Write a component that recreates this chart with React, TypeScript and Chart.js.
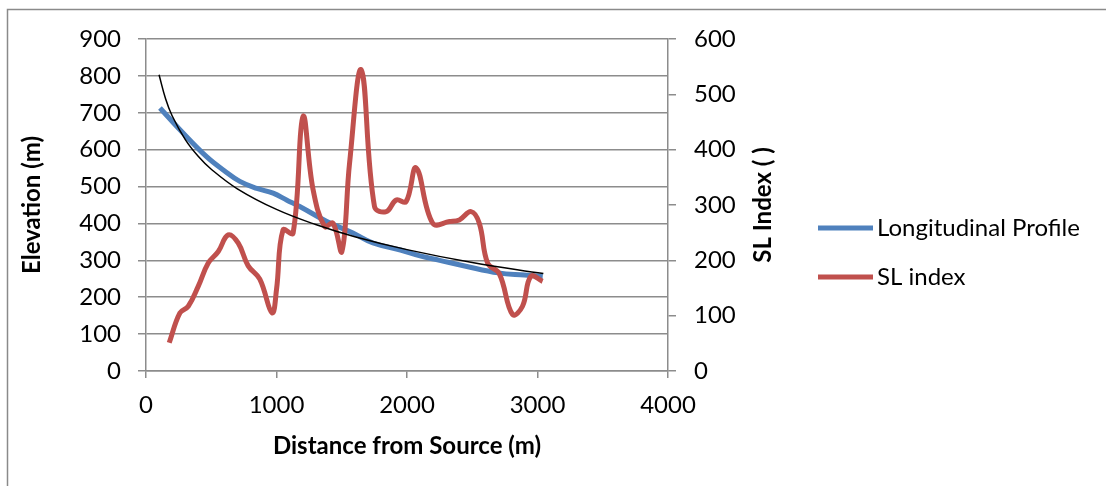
import React, { useEffect, useRef } from "react";
import { Chart, registerables } from "chart.js";

Chart.register(...registerables);

// Longitudinal profile (left axis, elevation m)
const profileDistance = [107, 260, 464, 600, 719, 850, 974, 1080, 1178, 1382, 1586, 1739, 1950, 2100, 2250, 2450, 2700, 2900, 3040];
const profileElevation = [713, 654, 581, 543, 514, 495, 482, 463, 446, 406, 374, 347, 328, 312, 300, 284, 266, 260, 256];

// SL index (right axis)
const slDistance = [178, 260, 324, 400, 477, 554, 630, 707, 783, 872, 966, 1000, 1050, 1127, 1203, 1280, 1369, 1433, 1501, 1560, 1650, 1751, 1841, 1917, 1993, 2070, 2197, 2325, 2401, 2491, 2554, 2618, 2707, 2809, 2885, 2949, 3039];
const slValues = [51, 105, 117, 153, 195, 216, 246, 231, 190, 166, 105, 147, 255, 249, 460, 328, 261, 267, 216, 376, 544, 297, 288, 309, 306, 367, 267, 270, 273, 288, 267, 195, 176, 102, 117, 171, 162];

// Trend line over the profile (left axis)
const trendDistance = [100, 150, 200, 300, 400, 500, 700, 1000, 1300, 1600, 2000, 2500, 3045];
const trendElevation = [803, 738, 692, 628, 582, 547, 494, 438, 397, 364, 329, 294, 264];

const seriesNames = ["Longitudinal Profile", "SL index"];
const xTitle = "Distance from Source (m)";
const yTitle = "Elevation (m)";
const y1Title = "SL Index ( )";

const FONT = "Lato, 'Open Sans', sans-serif";
const GRID = "#8c8c8c";
const BLUE = "#4f81bd";
const RED = "#c0504d";

export default function App() {
  const ref = useRef<HTMLCanvasElement | null>(null);

  useEffect(() => {
    document.body.style.margin = "0";
    const canvas = ref.current;
    if (!canvas) return;

    const framePlugin = {
      id: "frameAndLegend",
      beforeDraw(chart: any) {
        const c = chart.ctx;
        c.save();
        c.fillStyle = "#ffffff";
        c.fillRect(0, 0, chart.width, chart.height);
        c.strokeStyle = "#8a8a8a";
        c.lineWidth = 1.5;
        c.strokeRect(7.5, 9.5, chart.width + 40, chart.height + 40);
        c.restore();
      },
      afterDraw(chart: any) {
        const c = chart.ctx;
        c.save();
        // right axis title, reading bottom-to-top
        const area = chart.chartArea;
        c.translate(763, (area.top + area.bottom) / 2);
        c.rotate(-Math.PI / 2);
        c.fillStyle = "#000";
        c.font = `bold 24px ${FONT}`;
        c.textAlign = "center";
        c.textBaseline = "middle";
        c.fillText(y1Title, 0, 0);
        c.restore();

        c.save();
        const items = [
          { label: seriesNames[0], color: BLUE, y: 228 },
          { label: seriesNames[1], color: RED, y: 277 },
        ];
        items.forEach((it) => {
          c.strokeStyle = it.color;
          c.lineWidth = 5;
          c.lineCap = "butt";
          c.beginPath();
          c.moveTo(818, it.y);
          c.lineTo(873, it.y);
          c.stroke();
          c.fillStyle = "#000";
          c.font = `24px ${FONT}`;
          c.textBaseline = "middle";
          c.textAlign = "left";
          c.fillText(it.label, 877, it.y);
        });
        c.restore();
      },
    };

    const tickFont = { family: FONT, size: 24 };
    const titleFont = { family: FONT, size: 24, weight: "bold" as const };

    const chart = new Chart(canvas, {
      type: "line",
      data: {
        datasets: [
          {
            label: "Trend",
            data: trendDistance.map((x, i) => ({ x, y: trendElevation[i] })),
            borderColor: "#000000",
            borderWidth: 1.5,
            pointRadius: 0,
            tension: 0.4,
            yAxisID: "y",
          },
          {
            label: seriesNames[1],
            data: slDistance.map((x, i) => ({ x, y: slValues[i] })),
            borderColor: RED,
            borderWidth: 5,
            pointRadius: 0,
            tension: 0.4,
            yAxisID: "y1",
          },
          {
            label: seriesNames[0],
            data: profileDistance.map((x, i) => ({ x, y: profileElevation[i] })),
            borderColor: BLUE,
            borderWidth: 5,
            pointRadius: 0,
            tension: 0.4,
            yAxisID: "y",
          },
        ],
      },
      options: {
        responsive: false,
        animation: false,
        layout: { padding: { left: 0, top: 39, right: 335, bottom: 0 } },
        plugins: { legend: { display: false }, tooltip: { enabled: false } },
        scales: {
          x: {
            type: "linear",
            min: 0,
            max: 4000,
            ticks: {
              stepSize: 1000,
              color: "#000",
              font: tickFont,
              padding: 13,
              maxRotation: 0,
              callback: (v: any) => String(v),
            },
            grid: { drawOnChartArea: false, drawTicks: true, tickLength: 7, color: GRID, lineWidth: 1.5 },
            border: { color: GRID, width: 1.5 },
            title: {
              display: true,
              text: xTitle,
              color: "#000",
              font: titleFont,
              padding: { top: 0, bottom: 25 },
            },
            afterFit(s: any) {
              s.height = 115;
            },
          },
          y: {
            position: "left",
            min: 0,
            max: 900,
            ticks: { stepSize: 100, color: "#000", font: tickFont, padding: 17 },
            grid: { color: GRID, lineWidth: 1.5, tickLength: 8 },
            border: { color: GRID, width: 1.5 },
            title: {
              display: true,
              text: yTitle,
              color: "#000",
              font: titleFont,
              padding: { top: 18, bottom: 0 },
            },
            afterFit(s: any) {
              s.width = 146;
            },
          },
          y1: {
            position: "right",
            min: 0,
            max: 600,
            ticks: { stepSize: 100, color: "#000", font: tickFont, padding: 18 },
            grid: { drawOnChartArea: false, color: GRID, lineWidth: 1.5, tickLength: 8 },
            border: { color: GRID, width: 1.5 },
            title: { display: false },
            afterFit(s: any) {
              s.width = 103;
            },
          },
        },
      },
      plugins: [framePlugin],
    });

    return () => chart.destroy();
  }, []);

  return (
    <div style={{ position: "absolute", left: 0, top: 0, width: 1106, height: 486 }}>
      <canvas ref={ref} width={1106} height={486} style={{ display: "block" }} />
    </div>
  );
}
